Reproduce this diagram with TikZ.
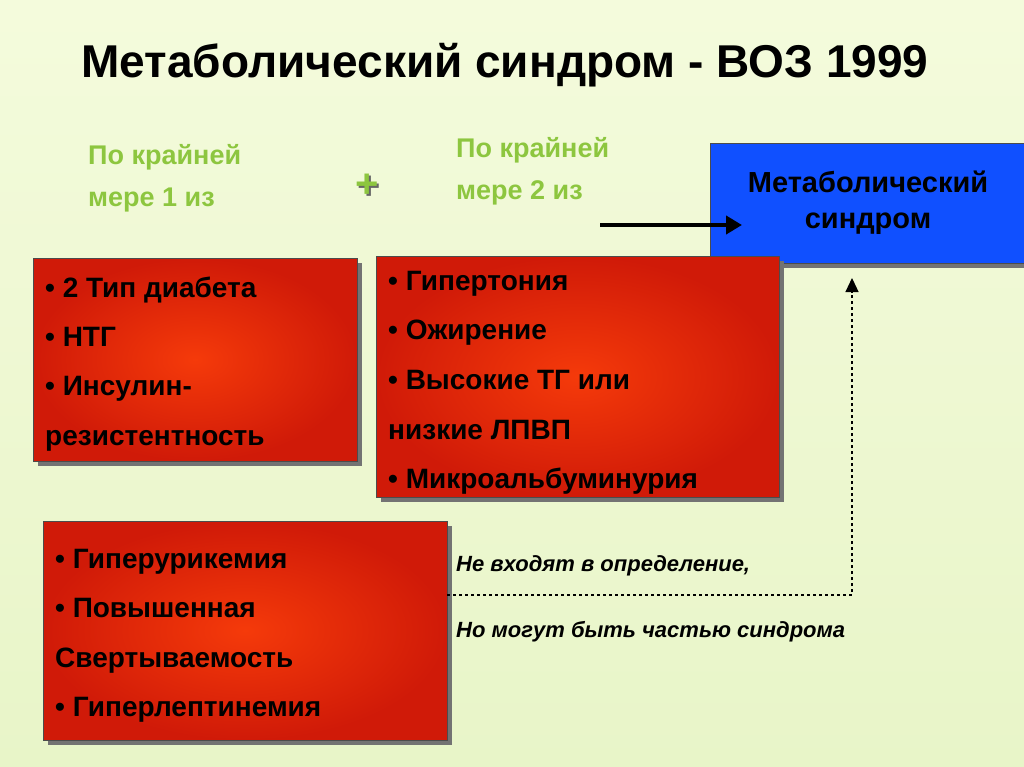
\documentclass[tikz,border=0pt]{standalone}
\usepackage{fontspec}
\setmainfont{Liberation Sans}
\usetikzlibrary{arrows.meta,shadows}
\definecolor{bgA}{HTML}{F4FBDC}
\definecolor{bgB}{HTML}{E8F5C8}
\definecolor{grn}{HTML}{8DC63F}
\definecolor{redA}{HTML}{F53A0A}
\definecolor{redB}{HTML}{D01A08}
\definecolor{blu}{HTML}{1050FF}
\tikzset{
  redbox/.style={draw=black!70,line width=0.8pt,inner color=redA,outer color=redB,
     drop shadow={shadow xshift=5pt,shadow yshift=-5pt,fill=black!55,opacity=1}},
  txt/.style={font=\bfseries\fontsize{28}{34}\selectfont,anchor=base west,inner sep=0},
  gtxt/.style={font=\bfseries\fontsize{27}{42}\selectfont,text=grn,align=left,anchor=north west,inner sep=0},
  itx/.style={font=\bfseries\itshape\fontsize{22}{26}\selectfont,anchor=base west,inner sep=0},
}
\begin{document}
\begin{tikzpicture}[x=1pt,y=-1pt]
\useasboundingbox (0,0) rectangle (1024,767);
\shade[top color=bgA,bottom color=bgB] (0,0) rectangle (1024,767);
\node[font=\bfseries\fontsize{46}{50}\selectfont,anchor=base] (title) at (505,78) {Метаболический синдром - ВОЗ 1999};
\node[gtxt] (g1) at (88,144) {По крайней\\мере 1 из};
\node[gtxt] (g2) at (456,137) {По крайней\\мере 2 из};
\node[font=\bfseries\fontsize{40}{40}\selectfont,text=black!60] at (369,188) {+};
\node[font=\bfseries\fontsize{40}{40}\selectfont,text=grn] (plus) at (367,186) {+};
% blue box
\fill[black!55] (715,148) rectangle (1029,268);
\draw[black!70,line width=0.8pt,fill=blu] (710,143) rectangle (1030,263);
\node[font=\bfseries\fontsize{29}{36}\selectfont,align=center] (ms) at (868,203) {Метаболический\\синдром};
\coordinate (a0) at (600,225);
\coordinate (a1) at (742,225);
\draw[line width=4pt,-{Triangle[length=16pt,width=18pt]}] (a0) -- (a1);
% boxes
\draw[redbox] (33,258) rectangle (357,461);
\node[txt] at (45,297) {• 2 Тип диабета};
\node[txt] at (45,346) {• НТГ};
\node[txt] at (45,395) {• Инсулин-};
\node[txt] at (45,445) {резистентность};
\draw[redbox] (376,256) rectangle (779,497);
\node[txt] at (388,290) {• Гипертония};
\node[txt] at (388,339) {• Ожирение};
\node[txt] at (388,389) {• Высокие ТГ или};
\node[txt] at (388,439) {низкие ЛПВП};
\node[txt] at (388,488) {• Микроальбуминурия};
\draw[redbox] (43,521) rectangle (447,740);
\node[txt] at (55,568) {• Гиперурикемия};
\node[txt] at (55,617) {• Повышенная};
\node[txt] at (55,667) {Свертываемость};
\node[txt] at (55,716) {• Гиперлептинемия};
% dashed
\coordinate (d0) at (447,595);
\coordinate (d1) at (852,595);
\coordinate (d2) at (852,278);
\draw[line width=1.2pt,dashed,-{Triangle[length=14pt,width=13pt]}] (d0) -- (d1) -- (d2);
\node[itx] at (456,571) {Не входят в определение,};
\node[itx] at (456,637) {Но могут быть частью синдрома};
\end{tikzpicture}
\end{document}
